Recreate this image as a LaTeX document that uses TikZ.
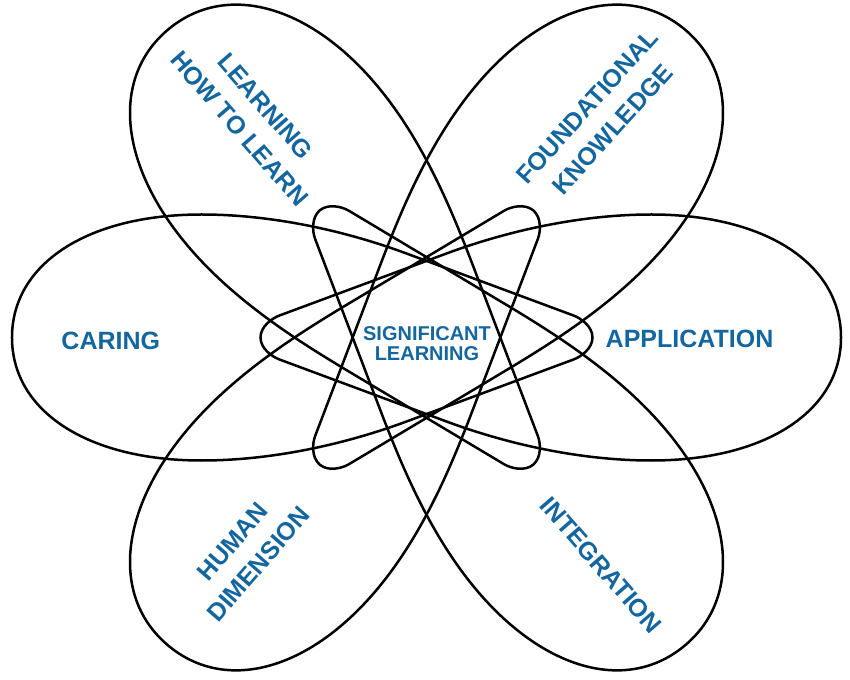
\documentclass[tikz,border=0pt]{standalone}
\usepackage{fontspec}
\setmainfont{Liberation Sans}
\definecolor{labelblue}{RGB}{20,102,158}
\begin{document}
\begin{tikzpicture}
[
 x=1pt, y=1pt,
 PETAL/.style={draw=black, line width=2.5pt},
 LABEL/.style={text=labelblue, font=\bfseries\fontsize{25}{34}\selectfont, align=center, inner sep=0pt},
 CENTRE/.style={text=labelblue, font=\bfseries\fontsize{20}{20.5}\selectfont, align=center, inner sep=0pt},
]
%
\useasboundingbox (-426.5,-341.5) rectangle (423.5,337.5);
%
\foreach \a/\plen/\pwid/\pmid in {0/414.5/123/84, 50/402/124/80, 130/402/124/80,
                                  180/414.5/123/84, 230/402/124/80, 310/402/124/80}
  {
    \draw [PETAL, rotate=\a] (-166,0) .. controls (-166,11) and ({-154.5},{22-(\pmid-22)*7.5/167}) .. (-147,22)
        -- (20,\pmid) .. controls (76,{\pmid+(\pmid-22)*56/167}) and (150,\pwid) .. (225,\pwid)
        .. controls ({225+0.6*(\plen-225)},\pwid) and (\plen,{0.6*\pwid}) .. (\plen,0)
        .. controls (\plen,{-0.6*\pwid}) and ({225+0.6*(\plen-225)},-\pwid) .. (225,-\pwid)
        .. controls (150,-\pwid) and (76,{-\pmid-(\pmid-22)*56/167}) .. (20,-\pmid)
        -- (-147,-22) .. controls ({-154.5},{-22+(\pmid-22)*7.5/167}) and (-166,-11) .. (-166,0) -- cycle;
  }
%
\node [LABEL]  (CAR)  at (-315.7,-3.3)  {CARING};
\node [LABEL]  (APP)  at (263,-1)       {APPLICATION};
\node [CENTRE] (SIG)  at (0.5,-6.3)     {SIGNIFICANT\\LEARNING};
%
\node [LABEL, rotate=-49] (LHL) at (-174,220)    {LEARNING\\HOW TO LEARN};
\node [LABEL, rotate=48]  (FND) at (173.5,219.5) {FOUNDATIONAL\\KNOWLEDGE};
\node [LABEL, rotate=49]  (HUM) at (-181,-215.5) {HUMAN\\DIMENSION};
\node [LABEL, rotate=-49] (INT) at (174.5,-227.5) {INTEGRATION};
%
\end{tikzpicture}
\end{document}
